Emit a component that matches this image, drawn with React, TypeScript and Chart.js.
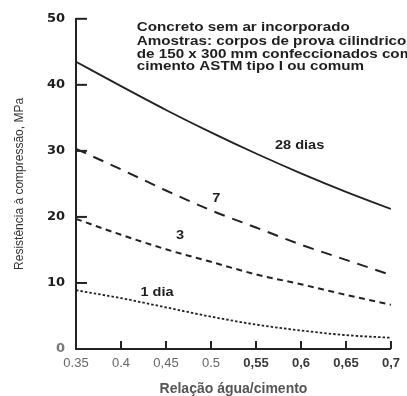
import React, { useEffect, useRef } from "react";
import { Chart, registerables } from "chart.js";

Chart.register(...registerables);

// ---- data ----
const xValues = [0.35, 0.4, 0.45, 0.5, 0.55, 0.6, 0.65, 0.7];
const xTickLabels = ["0.35", "0.4", "0,45", "0.5", "0,55", "0,6", "0,65", "0,7"];
const yTickValues = [0, 10, 20, 30, 40, 50];

const days28 = [43.5, 39.8, 36.2, 32.8, 29.6, 26.6, 23.8, 21.2];
const days7 = [30.3, 27.2, 24.0, 21.0, 18.4, 15.8, 13.5, 11.2];
const days3 = [19.7, 17.3, 15.1, 13.2, 11.3, 9.8, 8.2, 6.7];
const day1 = [8.9, 7.7, 6.3, 4.9, 3.7, 2.8, 2.1, 1.7];

const seriesNames = ["28 dias", "7", "3", "1 dia"];

const noteLines = [
  "Concreto sem ar incorporado",
  "Amostras: corpos de prova cilindricos",
  "de 150 x 300 mm confeccionados com",
  "cimento ASTM tipo I ou comum",
];

const xTitle = "Relação água/cimento";
const yTitle = "Resistência à compressão, MPa";

// label anchors in data coordinates (x ratio, MPa)
const curveLabelX = [0.5985, 0.5058, 0.4657, 0.44];
const curveLabelY = [30.9, 22.8, 17.2, 8.5];
const noteX = 0.4175;
const noteBaselineY = [48.2, 46.1, 44.1, 42.2];

const INK = "#222222";

const toPoints = (ys: number[]) => xValues.map((x, i) => ({ x, y: ys[i] }));

const innerTicksPlugin = {
  id: "innerTicks",
  afterDraw(chart: any) {
    const { ctx, chartArea, scales } = chart;
    const xs = scales.x;
    const ys = scales.y;
    ctx.save();
    ctx.strokeStyle = INK;
    ctx.lineWidth = 2;
    ctx.setLineDash([]);
    yTickValues.forEach((v) => {
      if (v === 0) return;
      const py = ys.getPixelForValue(v);
      ctx.beginPath();
      ctx.moveTo(chartArea.left, py);
      ctx.lineTo(chartArea.left + 11, py);
      ctx.stroke();
    });
    xValues.forEach((v, i) => {
      if (i === 0) return;
      const px = xs.getPixelForValue(v);
      ctx.beginPath();
      ctx.moveTo(px, chartArea.bottom);
      ctx.lineTo(px, chartArea.bottom - 8);
      ctx.stroke();
    });
    ctx.restore();
  },
};

const textPlugin = {
  id: "textNotes",
  afterDraw(chart: any) {
    const { ctx, scales } = chart;
    const xs = scales.x;
    const ys = scales.y;
    ctx.save();
    ctx.fillStyle = "#1e1e1e";
    ctx.font = 'bold 13px "Liberation Sans", Arial, sans-serif';
    ctx.textAlign = "left";
    ctx.textBaseline = "alphabetic";
    const noteScale = 1.17;
    noteLines.forEach((t, i) => {
      const px = xs.getPixelForValue(noteX);
      const py = ys.getPixelForValue(noteBaselineY[i]);
      ctx.save();
      ctx.translate(px, py);
      ctx.scale(noteScale, 1);
      ctx.fillText(t, 0, 0);
      ctx.restore();
    });
    ctx.textAlign = "center";
    ctx.textBaseline = "middle";
    seriesNames.forEach((t, i) => {
      const px = xs.getPixelForValue(curveLabelX[i]);
      const py = ys.getPixelForValue(curveLabelY[i]);
      ctx.save();
      ctx.translate(px, py);
      ctx.scale(1.12, 1);
      ctx.fillText(t, 0, 0);
      ctx.restore();
    });
    ctx.restore();
  },
};

export default function App() {
  const canvasRef = useRef<HTMLCanvasElement | null>(null);

  useEffect(() => {
    const canvas = canvasRef.current;
    if (!canvas) return;
    const lineBase = {
      borderColor: INK,
      pointRadius: 0,
      fill: false,
      cubicInterpolationMode: "monotone" as const,
    };
    const chart = new Chart(canvas, {
      type: "line",
      data: {
        datasets: [
          { ...lineBase, label: seriesNames[0], data: toPoints(days28), borderWidth: 1.8 },
          { ...lineBase, label: seriesNames[1], data: toPoints(days7), borderWidth: 2, borderDash: [11, 8] },
          { ...lineBase, label: seriesNames[2], data: toPoints(days3), borderWidth: 2, borderDash: [6, 4.5] },
          { ...lineBase, label: seriesNames[3], data: toPoints(day1), borderWidth: 1.8, borderDash: [2.5, 2] },
        ],
      },
      options: {
        animation: false,
        responsive: false,
        devicePixelRatio: 1,
        layout: { padding: { left: 0, top: 15.5, right: 11.3, bottom: 0 } },
        plugins: { legend: { display: false }, tooltip: { enabled: false } },
        scales: {
          x: {
            type: "linear",
            min: 0.35,
            max: 0.7,
            afterBuildTicks: (scale: any) => {
              scale.ticks = xValues.map((v) => ({ value: v }));
            },
            afterFit: (scale: any) => {
              scale.height = 47;
            },
            grid: { display: false, drawTicks: false },
            border: { display: true, color: INK, width: 2 },
            ticks: {
              padding: 7,
              maxRotation: 0,
              autoSkip: false,
              callback: (value: any) => {
                const i = xValues.findIndex((v) => Math.abs(v - Number(value)) < 1e-6);
                return i >= 0 ? xTickLabels[i] : "";
              },
              color: (c: any) => (c.index < 4 ? "#666666" : "#3a3a3a"),
              font: (c: any) => ({
                family: '"Liberation Sans", Arial, sans-serif',
                size: 13,
                weight: c.index < 4 ? "normal" : "bold",
              }),
            },
            title: {
              display: true,
              text: xTitle,
              color: "#555555",
              font: { family: '"Liberation Sans", Arial, sans-serif', size: 14, weight: "bold", lineHeight: 1 },
              padding: { top: 0, bottom: 0 },
            },
          },
          y: {
            type: "linear",
            min: 0,
            max: 50,
            afterBuildTicks: (scale: any) => {
              scale.ticks = yTickValues.map((v) => ({ value: v }));
            },
            afterFit: (scale: any) => {
              scale.width = 76;
            },
            grid: { display: false, drawTicks: false },
            border: { display: true, color: INK, width: 2 },
            ticks: {
              padding: 11,
              color: (c: any) => (c.tick && c.tick.value === 0 ? "#777777" : "#1e1e1e"),
              font: { family: '"DejaVu Sans", sans-serif', size: 13, weight: "bold" },
            },
            title: {
              display: true,
              text: yTitle,
              color: "#333333",
              font: { family: '"Liberation Sans", Arial, sans-serif', size: 12 },
              padding: { top: 12, bottom: 0 },
            },
          },
        },
      },
      plugins: [innerTicksPlugin, textPlugin],
    });
    return () => chart.destroy();
  }, []);

  return (
    <div style={{ position: "absolute", left: 0, top: 0, width: 407, height: 396, background: "#ffffff" }}>
      <canvas ref={canvasRef} width={407} height={396} style={{ width: 407, height: 396, display: "block" }} />
    </div>
  );
}
